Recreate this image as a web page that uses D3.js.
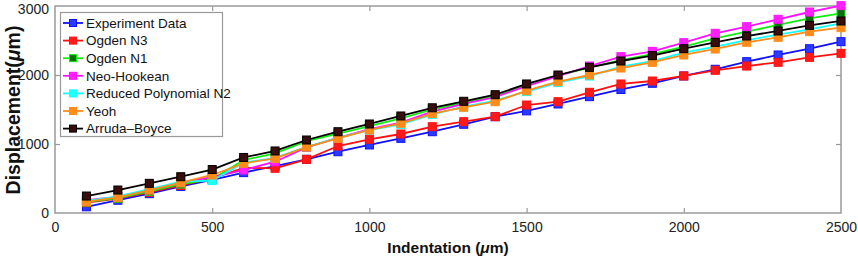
<!DOCTYPE html>
<html><head><meta charset="utf-8">
<script src="https://cdn.jsdelivr.net/npm/d3@7"></script>
<style>body{margin:0;background:#fff;} svg{display:block;font-family:Arial,"Liberation Sans",sans-serif;}</style>
</head><body><svg id="c" width="858" height="259"></svg>
<script>
const indentation = [100,200,300,400,500,600,700,800,900,1000,1100,1200,1300,1400,1500,1600,1700,1800,1900,2000,2100,2200,2300,2400,2500];
const experimentData = [90,185,280,385,480,585,681,778,888,986,1082,1178,1286,1396,1480,1580,1686,1790,1880,1986,2083,2193,2290,2381,2483];
const ogdenN3 = [150,210,300,400,500,655,648,778,971,1068,1145,1251,1323,1396,1565,1613,1749,1870,1913,1986,2068,2130,2184,2256,2314];
const ogdenN1 = [160,215,315,420,488,768,865,1041,1150,1260,1370,1500,1600,1700,1860,1990,2110,2217,2304,2411,2532,2628,2725,2820,2893];
const neoHookean = [188,235,335,440,520,623,743,952,1090,1215,1310,1470,1580,1680,1840,1985,2130,2265,2343,2468,2604,2700,2807,2913,3005];
const reducedPolyN2 = [175,240,345,455,470,730,800,960,1090,1200,1285,1430,1540,1630,1760,1890,1985,2120,2200,2323,2411,2507,2584,2662,2749];
const yeoh = [164,227,333,439,551,720,792,956,1082,1203,1300,1440,1532,1613,1772,1903,2000,2101,2184,2290,2377,2474,2546,2628,2686];
const arrudaBoyce = [246,333,430,526,630,805,899,1058,1178,1290,1406,1525,1619,1715,1870,2000,2111,2203,2280,2381,2473,2565,2638,2720,2783];
const seriesNames = ["Experiment Data","Ogden N3","Ogden N1","Neo-Hookean","Reduced Polynomial N2","Yeoh","Arruda–Boyce"];
const seriesValues = [experimentData,ogdenN3,ogdenN1,neoHookean,reducedPolyN2,yeoh,arrudaBoyce];
const seriesColors = ["#1010ff","#ff1010","#10ee10","#ff10ff","#10ffff","#ff8c1a","#000000"];
const markerFills = ["#2a3aff","#ff1a1a","#0b6e0b","#ff20ff","#20ffff","#ff8c1a","#3a0d0d"];
const xTicks = [0,500,1000,1500,2000,2500];
const yTicks = [0,1000,2000,3000];

const svg = d3.select("#c");
const L=55,R=841,T=6,B=213;
const x = d3.scaleLinear().domain([0,2500]).range([L,R]);
const y = d3.scaleLinear().domain([0,3000]).range([B,T]);
const axisCol="#999";

svg.append("rect").attr("x",L).attr("y",T).attr("width",R-L).attr("height",B-T).attr("fill","none").attr("stroke",axisCol).attr("stroke-width",1.5);

const gx = svg.append("g").attr("transform",`translate(0,${B})`).call(d3.axisBottom(x).tickValues(xTicks).tickSize(-5).tickPadding(9).tickFormat(d3.format("d")));
const gxt = svg.append("g").attr("transform",`translate(0,${T})`).call(d3.axisTop(x).tickValues(xTicks).tickSize(-5).tickFormat(""));
const gy = svg.append("g").attr("transform",`translate(${L},0)`).call(d3.axisLeft(y).tickValues(yTicks).tickSize(-5).tickPadding(6).tickFormat(d3.format("d")));
const gyr = svg.append("g").attr("transform",`translate(${R},0)`).call(d3.axisRight(y).tickValues(yTicks).tickSize(-5).tickFormat(""));
[gx,gxt,gy,gyr].forEach(g=>{
  g.select(".domain").remove();
  g.selectAll(".tick line").attr("stroke",axisCol).attr("stroke-width",1.2);
  g.selectAll("text").attr("font-size",14).attr("fill","#222").attr("font-family","Arial,'Liberation Sans',sans-serif");
});
gy.selectAll(".tick").filter(d=>d===3000).select("text").attr("dy","0.5em");
gx.selectAll(".tick").filter(d=>d===0||d===2500).select("line").remove();
gxt.selectAll(".tick").filter(d=>d===0||d===2500).select("line").remove();
gy.selectAll(".tick").filter(d=>d===0||d===3000).select("line").remove();
gyr.selectAll(".tick").filter(d=>d===0||d===3000).select("line").remove();

const line = d3.line().x((d,i)=>x(indentation[i])).y(d=>y(d));
const ms=8;
seriesValues.forEach((vals,k)=>{
  const g = svg.append("g");
  g.append("path").datum(vals).attr("d",line).attr("fill","none").attr("stroke",seriesColors[k]).attr("stroke-width",1.8);
  g.selectAll("rect").data(vals).join("rect")
    .attr("x",(d,i)=>x(indentation[i])-ms/2).attr("y",d=>y(d)-ms/2)
    .attr("width",ms).attr("height",ms)
    .attr("fill",markerFills[k]).attr("stroke",seriesColors[k]).attr("stroke-width",1);
});

const lg = svg.append("g");
lg.append("rect").attr("x",60.5).attr("y",12.5).attr("width",162).attr("height",124).attr("fill","#fff").attr("stroke",axisCol).attr("stroke-width",1.2);
seriesNames.forEach((n,k)=>{
  const yy = 23 + k*17.6;
  lg.append("line").attr("x1",63).attr("x2",83).attr("y1",yy).attr("y2",yy).attr("stroke",seriesColors[k]).attr("stroke-width",1.8);
  lg.append("rect").attr("x",73-3.5).attr("y",yy-3.5).attr("width",7).attr("height",7).attr("fill",markerFills[k]).attr("stroke",seriesColors[k]).attr("stroke-width",1);
  lg.append("text").attr("x",86).attr("y",yy).attr("dy","0.36em").attr("font-size",13.5).attr("fill","#111").text(n);
});

const xt = svg.append("text").attr("x",448).attr("y",253).attr("text-anchor","middle").attr("font-size",15.5).attr("font-weight","bold").attr("fill","#111");
xt.append("tspan").text("Indentation (");
xt.append("tspan").attr("font-style","italic").text("μ");
xt.append("tspan").text("m)");
const yt = svg.append("text").attr("transform","translate(20,110) rotate(-90)").attr("text-anchor","middle").attr("font-size",19.5).attr("font-weight","bold").attr("fill","#111");
yt.append("tspan").text("Displacement(");
yt.append("tspan").attr("font-style","italic").text("μ");
yt.append("tspan").text("m)");
</script></body></html>
